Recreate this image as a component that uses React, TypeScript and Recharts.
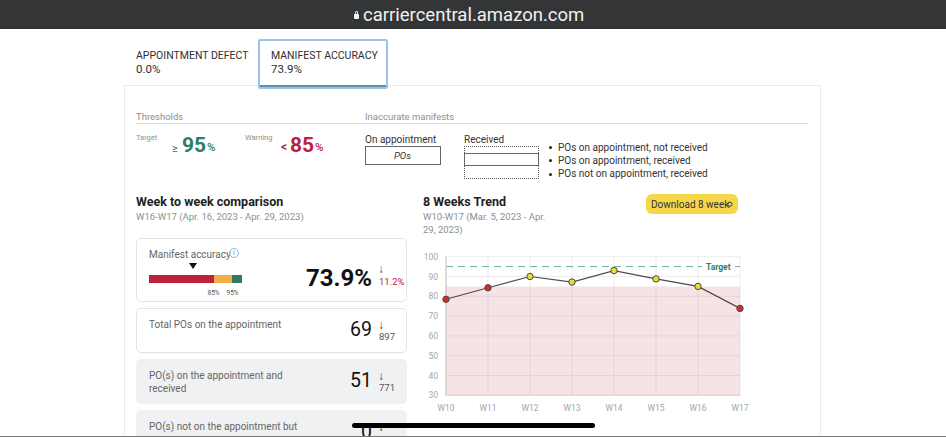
import React from "react";
import {
  ComposedChart,
  Line,
  XAxis,
  YAxis,
  CartesianGrid,
  ReferenceArea,
  ReferenceLine,
} from "recharts";

const weeks = ["W10", "W11", "W12", "W13", "W14", "W15", "W16", "W17"];
const accuracy = [78.5, 84.3, 90, 87.2, 93, 88.8, 85, 73.9];
const yTicks = [30, 40, 50, 60, 70, 80, 90, 100];
const legendLines = [
  "POs on appointment, not received",
  "POs on appointment, received",
  "POs not on appointment, received",
];

const trend = weeks.map((week, i) => ({ week, accuracy: accuracy[i] }));

const FONT = 'Roboto, "Noto Sans", sans-serif';
const GREEN = "#2f7d60";
const RED = "#b9233f";
const GREY = "#8a8f94";

function T({
  x,
  y,
  size = 10.5,
  color = "#333",
  weight = 400,
  right,
  italic,
  family,
  children,
}: {
  x: number;
  y: number;
  size?: number;
  color?: string;
  weight?: number;
  right?: boolean;
  italic?: boolean;
  family?: string;
  children: React.ReactNode;
}) {
  return (
    <div
      style={{
        position: "absolute",
        left: right ? undefined : x,
        right: right ? 946 - x : undefined,
        top: y - size / 2,
        fontSize: size,
        lineHeight: `${size}px`,
        color,
        fontWeight: weight,
        fontStyle: italic ? "italic" : "normal",
        fontFamily: family || FONT,
        whiteSpace: "nowrap",
      }}
    >
      {children}
    </div>
  );
}

function Box({
  x,
  y,
  w,
  h,
  style,
}: {
  x: number;
  y: number;
  w: number;
  h: number;
  style?: React.CSSProperties;
}) {
  return (
    <div
      style={{
        position: "absolute",
        left: x,
        top: y,
        width: w,
        height: h,
        boxSizing: "border-box",
        ...style,
      }}
    />
  );
}

function TrendDot(props: any) {
  const { cx, cy, value } = props;
  return (
    <circle
      cx={cx}
      cy={cy}
      r={3.2}
      fill={value < 85 ? "#d02c2c" : "#e6dc3c"}
      stroke="#4d4844"
      strokeWidth={1}
    />
  );
}

function TargetLabel(props: any) {
  const { x, y, width } = props.viewBox;
  const right = x + width;
  return (
    <g>
      <rect x={right - 38} y={y - 5} width={33} height={10} fill="#fff" />
      <text
        x={right - 34}
        y={y + 3}
        fontSize={8.5}
        fontWeight={700}
        fontFamily={FONT}
        fill={GREEN}
      >
        Target
      </text>
    </g>
  );
}

function TrendChart() {
  return (
    <div style={{ position: "absolute", left: 410, top: 245 }}>
      <ComposedChart
        width={350}
        height={175}
        data={trend}
        margin={{ top: 11.7, right: 20, bottom: 0, left: 0 }}
      >
        <CartesianGrid stroke="#8a8f94" strokeOpacity={0.16} />
        <ReferenceArea y1={30} y2={85} fill="#b9233f" fillOpacity={0.13} stroke="none" />
        <XAxis
          dataKey="week"
          height={24.7}
          interval={0}
          padding={{ left: 0, right: 0 }}
          scale="point"
          tick={{ fontSize: 8.5, fill: "#a3a6a9", fontFamily: FONT }}
          tickLine={false}
          tickMargin={4}
          axisLine={{ stroke: "#dcd3d7" }}
        />
        <YAxis
          width={36}
          type="number"
          domain={[30, 100]}
          ticks={yTicks}
          interval={0}
          tick={{ fontSize: 8.5, fill: "#a3a6a9", fontFamily: FONT }}
          tickLine={false}
          tickMargin={2}
          axisLine={{ stroke: "#d5d0d3", strokeWidth: 1.5 }}
        />
        <ReferenceLine
          y={95}
          stroke="#6fae94"
          strokeDasharray="7 5"
          strokeWidth={1}
          label={<TargetLabel />}
        />
        <Line
          dataKey="accuracy"
          stroke="#4f4a4c"
          strokeWidth={1.2}
          dot={<TrendDot />}
          activeDot={false}
          isAnimationActive={false}
        />
      </ComposedChart>
    </div>
  );
}

export default function App() {
  return (
    <div
      style={{
        position: "fixed",
        left: 0,
        top: 0,
        width: 946,
        height: 437,
        overflow: "hidden",
        background: "#fff",
        fontFamily: FONT,
      }}
    >
      {/* url bar */}
      <Box x={0} y={0} w={946} h={29} style={{ background: "#343537" }} />
      <Box x={353.5} y={14} w={5.5} h={5} style={{ background: "#f2f2f2", borderRadius: 1 }} />
      <Box
        x={354.5}
        y={11}
        w={3.5}
        h={4}
        style={{ border: "1px solid #f2f2f2", borderBottom: "none", borderRadius: "2px 2px 0 0" }}
      />
      <T x={363} y={15} size={18.5} color="#f1f1f1" family="Roboto">
        carriercentral.amazon.com
      </T>

      {/* panel and tabs */}
      <Box x={124} y={85} w={697} h={360} style={{ border: "1px solid #e9eaeb" }} />
      <T x={136} y={56.5} size={10.5} color="#2d2f31">
        APPOINTMENT DEFECT
      </T>
      <T x={136} y={69.5} size={11.5} color="#2d2f31">
        0.0%
      </T>
      <Box
        x={258}
        y={38.5}
        w={130}
        h={50}
        style={{
          background: "#fff",
          border: "2px solid #9cc1ea",
          borderRadius: 2,
          boxShadow: "inset 0 -2px 0 #5f8fa0",
        }}
      />
      <T x={271} y={56.5} size={10.5} color="#2d2f31">
        MANIFEST ACCURACY
      </T>
      <T x={271} y={69.5} size={11.5} color="#2d2f31">
        73.9%
      </T>

      {/* thresholds */}
      <T x={136} y={117} size={9.5} color={GREY}>
        Thresholds
      </T>
      <T x={365} y={117} size={9.5} color={GREY}>
        Inaccurate manifests
      </T>
      <Box x={136} y={123} w={672} h={1} style={{ background: "#d9dadb" }} />
      <T x={136} y={138} size={7.5} color={GREY}>
        Target
      </T>
      <T x={172} y={148} size={11} color={GREEN}>
        ≥
      </T>
      <T x={182} y={145} size={21} color={GREEN} weight={700}>
        95
      </T>
      <T x={207} y={148} size={11.5} color={GREEN} weight={500}>
        %
      </T>
      <T x={245} y={138} size={7.5} color={GREY}>
        Warning
      </T>
      <T x={281} y={147} size={12} color={RED} weight={600}>
        {"<"}
      </T>
      <T x={290} y={145} size={21} color={RED} weight={700}>
        85
      </T>
      <T x={315} y={148} size={11.5} color={RED} weight={500}>
        %
      </T>

      {/* inaccurate manifests legend */}
      <T x={365} y={140} size={10}>
        On appointment
      </T>
      <Box x={365} y={146} w={76} h={19} style={{ border: "1px solid #666" }} />
      <T x={394} y={156} size={9.5} italic>
        POs
      </T>
      <T x={464} y={140} size={10}>
        Received
      </T>
      <Box x={464} y={146} w={75} h={33} style={{ border: "1px dotted #555" }} />
      <Box x={464} y={153} w={75} h={13} style={{ border: "1px solid #666", background: "#fff" }} />
      {legendLines.map((line, i) => (
        <React.Fragment key={line}>
          <Box
            x={549}
            y={146 + i * 13.3}
            w={3}
            h={3}
            style={{ background: "#222", borderRadius: "50%" }}
          />
          <T x={558} y={147.5 + i * 13.3} size={10}>
            {line}
          </T>
        </React.Fragment>
      ))}

      {/* week to week */}
      <T x={136} y={202} size={12.5} weight={700} color="#1d1f21">
        Week to week comparison
      </T>
      <T x={136} y={217} size={9.5} color={GREY}>
        W16-W17 (Apr. 16, 2023 - Apr. 29, 2023)
      </T>

      {/* 8 weeks trend */}
      <T x={423} y={202} size={12.5} weight={700} color="#1d1f21">
        8 Weeks Trend
      </T>
      <T x={423} y={217} size={9.5} color={GREY}>
        W10-W17 (Mar. 5, 2023 - Apr.
      </T>
      <T x={423} y={230} size={9.5} color={GREY}>
        29, 2023)
      </T>
      <Box x={646} y={194} w={92} h={20} style={{ background: "#f6d74a", borderRadius: 6 }} />
      <T x={651} y={204.5} size={10} color="#333">
        Download 8 week
      </T>
      <T x={726} y={204} size={9} color="#333">
        ≎
      </T>
      <TrendChart />

      {/* cards */}
      <Box x={136} y={238} w={271} h={64} style={{ border: "1px solid #e3e4e5", borderRadius: 5 }} />
      <T x={149} y={254.5} size={10} color="#666">
        Manifest accuracy
      </T>
      <Box
        x={229}
        y={248}
        w={10}
        h={10}
        style={{ border: "1px solid #8fb8cf", borderRadius: "50%" }}
      />
      <T x={233} y={253} size={7} color="#6d9fbc">
        i
      </T>
      <Box
        x={189}
        y={263}
        w={0}
        h={0}
        style={{
          borderLeft: "4px solid transparent",
          borderRight: "4px solid transparent",
          borderTop: "6px solid #111",
        }}
      />
      <Box x={149} y={275} w={65} h={8} style={{ background: "#bd2339" }} />
      <Box x={214} y={275} w={18} h={8} style={{ background: "#f0ad4a" }} />
      <Box x={232} y={275} w={10} h={8} style={{ background: "#317a5c" }} />
      <T x={207.5} y={293} size={6.5} color="#555">
        85%
      </T>
      <T x={226.5} y={293} size={6.5} color="#555">
        95%
      </T>
      <T x={372} y={278} size={24} weight={700} color="#111" right>
        73.9%
      </T>
      <T x={378} y={269} size={12} color={RED}>
        ↓
      </T>
      <T x={379} y={282} size={9.5} color={RED}>
        11.2%
      </T>

      <Box x={136} y={308} w={271} h={45} style={{ border: "1px solid #e3e4e5", borderRadius: 5 }} />
      <T x={149} y={324.5} size={10} color="#666">
        Total POs on the appointment
      </T>
      <T x={372} y={330} size={19.5} color="#111" right>
        69
      </T>
      <T x={378} y={325} size={12} color="#444">
        ↓
      </T>
      <T x={379} y={337} size={9.5} color="#555">
        897
      </T>

      <Box x={136} y={359} w={271} h={45} style={{ background: "#f0f1f2", borderRadius: 5 }} />
      <T x={149} y={376} size={10} color="#666">
        PO(s) on the appointment and
      </T>
      <T x={149} y={389} size={10} color="#666">
        received
      </T>
      <T x={372} y={381} size={19.5} color="#111" right>
        51
      </T>
      <T x={378} y={376} size={12} color="#444">
        ↓
      </T>
      <T x={379} y={388} size={9.5} color="#555">
        771
      </T>

      <Box x={136} y={410} w={271} h={40} style={{ background: "#f0f1f2", borderRadius: 5 }} />
      <T x={149} y={427} size={10} color="#666">
        PO(s) not on the appointment but
      </T>
      <T x={372} y={432} size={19.5} color="#111" right>
        0
      </T>
      <T x={378} y={427} size={12} color="#444">
        ↓
      </T>

      {/* home indicator */}
      <Box x={352} y={423} w={243} h={5} style={{ background: "#000", borderRadius: 3 }} />
      <Box x={0} y={435.5} w={946} h={1.5} style={{ background: "#777" }} />
    </div>
  );
}
